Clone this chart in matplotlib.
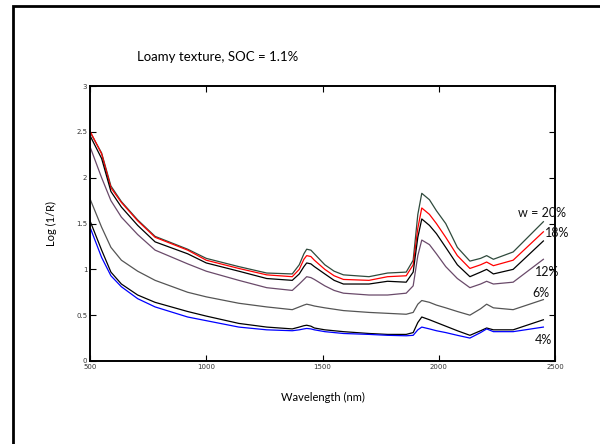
import numpy as np
import matplotlib
matplotlib.use("Agg")
from matplotlib import pyplot as plt
from matplotlib.patches import Rectangle

wl = [500, 550, 590, 635, 705, 780, 920, 1000, 1140, 1260, 1370, 1400, 1420, 1432, 1450,
      1465, 1510, 1550, 1590, 1700, 1780, 1860, 1890, 1910, 1927, 1960, 1990, 2030, 2080,
      2134, 2180, 2206, 2235, 2320, 2450]

# log(1/R) per moisture level, top to bottom
w20 = [2.50, 2.27, 1.91, 1.74, 1.54, 1.36, 1.22, 1.12, 1.03, 0.96, 0.95, 1.05, 1.17, 1.22, 1.21,
       1.17, 1.05, 0.98, 0.94, 0.92, 0.96, 0.97, 1.10, 1.60, 1.83, 1.76, 1.64, 1.50, 1.24,
       1.09, 1.12, 1.15, 1.11, 1.19, 1.52]
w18 = [2.51, 2.26, 1.89, 1.73, 1.53, 1.35, 1.21, 1.10, 1.01, 0.94, 0.92, 1.00, 1.11, 1.15, 1.14,
       1.10, 1.00, 0.93, 0.89, 0.88, 0.92, 0.93, 1.05, 1.45, 1.67, 1.60, 1.50, 1.35, 1.15,
       1.01, 1.05, 1.08, 1.04, 1.10, 1.41]
w15 = [2.46, 2.21, 1.85, 1.68, 1.48, 1.30, 1.17, 1.07, 0.98, 0.90, 0.88, 0.95, 1.03, 1.07, 1.06,
       1.03, 0.95, 0.88, 0.84, 0.84, 0.87, 0.86, 0.97, 1.35, 1.55, 1.48, 1.39, 1.24, 1.05,
       0.92, 0.97, 1.00, 0.95, 1.00, 1.31]
w12 = [2.34, 2.00, 1.75, 1.57, 1.38, 1.21, 1.06, 0.98, 0.88, 0.80, 0.77, 0.84, 0.89, 0.92, 0.91,
       0.89, 0.82, 0.77, 0.74, 0.72, 0.72, 0.74, 0.82, 1.15, 1.32, 1.27, 1.17, 1.03, 0.90,
       0.80, 0.84, 0.87, 0.84, 0.86, 1.11]
w6 = [1.77, 1.46, 1.24, 1.10, 0.98, 0.88, 0.75, 0.70, 0.63, 0.59, 0.56, 0.59, 0.61, 0.62, 0.61,
      0.60, 0.58, 0.565, 0.55, 0.53, 0.52, 0.51, 0.53, 0.62, 0.66, 0.64, 0.61, 0.58, 0.54,
      0.50, 0.57, 0.62, 0.58, 0.56, 0.67]
w4 = [1.53, 1.21, 0.97, 0.84, 0.72, 0.64, 0.54, 0.49, 0.41, 0.37, 0.35, 0.37, 0.385, 0.39, 0.38,
      0.36, 0.34, 0.33, 0.32, 0.30, 0.29, 0.29, 0.31, 0.42, 0.48, 0.45, 0.42, 0.38, 0.33,
      0.28, 0.33, 0.36, 0.34, 0.34, 0.45]
w2 = [1.46, 1.13, 0.93, 0.81, 0.68, 0.59, 0.48, 0.44, 0.37, 0.34, 0.33, 0.34, 0.35, 0.355, 0.35,
      0.34, 0.32, 0.31, 0.30, 0.29, 0.28, 0.275, 0.28, 0.34, 0.37, 0.35, 0.33, 0.31, 0.28,
      0.25, 0.31, 0.35, 0.32, 0.32, 0.37]

curves = [w20, w18, w15, w12, w6, w4, w2]
colors = ["#2f4a3c", "#ff0000", "#000000", "#6a4a6a", "#555555", "#000000", "#0000ff"]

# labels at the right end
labels = ["w = 20%", "18%", "12%", "6%", "4%"]
label_x = [2340, 2457, 2414, 2401, 2414]
label_y = [1.61, 1.40, 0.97, 0.74, 0.23]

fig = plt.figure(figsize=(6, 4.44), dpi=100)
ax = fig.add_axes([0.15, 0.187, 0.775, 0.619])

for y, c in zip(curves, colors):
    ax.plot(wl, y, color=c, lw=0.9, solid_joinstyle="round")

for t, x, y in zip(labels, label_x, label_y):
    ax.text(x, y, t, fontsize=9, family="Lato", va="center", ha="left", color="#111111")

ax.set_xlim(500, 2500)
ax.set_ylim(0, 3)
ax.set_xticks([500, 1000, 1500, 2000, 2500])
ax.set_yticks([0, 0.5, 1, 1.5, 2, 2.5, 3])
ax.set_yticklabels(["0", "0.5", "1", "1.5", "2", "2.5", "3"])
ax.tick_params(direction="in", length=4, width=0.8, labelsize=5, top=True, right=True,
               labelcolor="#333333", pad=2)
for s in ax.spines.values():
    s.set_linewidth(1.4)

ax.set_xlabel("Wavelength (nm)", fontsize=8, family="Lato", labelpad=16)
ax.set_ylabel("Log (1/R)", fontsize=8, family="Lato", labelpad=14)

fig.text(218 / 600, 1 - 57 / 444, "Loamy texture, SOC = 1.1%", fontsize=9.5, family="Lato",
         ha="center", va="center")

# outer frame of the figure
fig.patches.append(Rectangle((13 / 600, -0.1), 1.2, 1.1 - 6 / 444, transform=fig.transFigure,
                             fill=False, lw=2, edgecolor="black"))

fig.savefig("out.png", dpi=100)
